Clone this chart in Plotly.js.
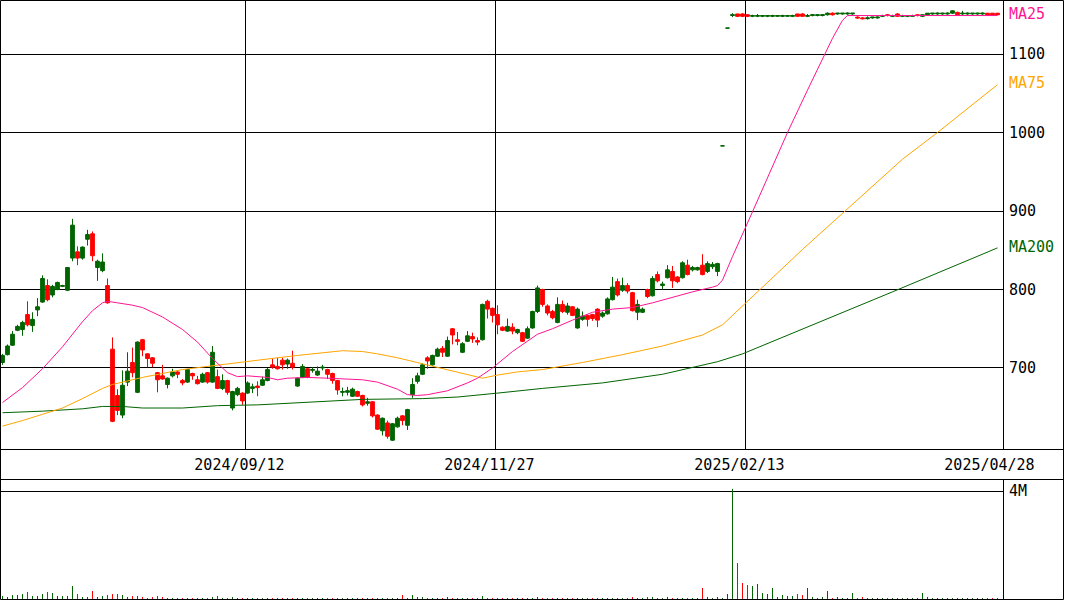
<!DOCTYPE html>
<html><head><meta charset="utf-8">
<script src="https://cdn.plot.ly/plotly-3.0.1.min.js"></script>
<style>html,body{margin:0;padding:0;background:#fff;}#chart{width:1065px;height:600px;}</style>
</head><body><div id="chart"></div>
<script>
// ---- data (daily candles, index 0..199) ----
const openP = [
707,717,729,748,749,768,754,774,784,805,
793,800,804,799,840,848,840,864,871,828,
824,805,724,665,640,682,707,669,736,718,
713,694,690,679,690,695,684,682,693,685,
682,694,682,689,674,684,649,666,668,668,
674,677,678,684,704,702,710,705,706,677,
688,699,697,691,700,698,693,684,669,669,
664,670,665,655,657,640,620,630,608,625,
639,627,666,683,692,713,704,715,725,715,
750,736,720,734,740,735,736,785,776,768,
752,747,752,745,745,738,751,772,800,779,
772,758,781,771,778,751,762,767,768,775,
766,769,787,810,799,805,796,771,771,800,
792,819,805,815,823,816,815,831,825,825,
831,823,829,823,983,1133,1149,1151,1151,1150,
1148,1148,1148,1148,1148,1148,1148,1148,1148,1151,
1151,1148,1149,1149,1149,1150,1152,1151,1151,1151,
1151,1147,1146,1145,1146,1146,1148,1150,1148,1151,
1148,1148,1148,1150,1148,1150,1151,1151,1151,1151,
1152,1153,1151,1151,1151,1151,1151,1152,1152,1152];
const highP = [
718,730,747,755,760,785,771,789,818,813,
806,810,806,828,890,855,855,876,874,838,
846,814,739,673,697,720,726,734,737,719,
714,695,704,688,699,696,686,699,694,690,
694,695,728,698,692,685,671,676,669,683,
680,683,689,700,712,713,713,712,722,688,
705,700,701,702,704,699,694,685,675,676,
675,671,666,662,658,641,637,633,630,638,
640,648,687,694,706,715,717,726,728,740,
751,746,733,747,745,739,782,787,777,780,
753,763,757,750,746,753,773,805,801,781,
774,790,786,783,779,777,772,768,769,776,
772,790,816,814,815,808,797,787,777,801,
817,823,810,831,830,817,836,838,830,829,
845,836,835,834,983,1133,1152,1151,1152,1151,
1150,1151,1149,1149,1150,1149,1150,1149,1150,1151,
1152,1151,1151,1150,1150,1153,1153,1152,1152,1153,
1152,1148,1147,1148,1147,1148,1150,1151,1150,1152,
1150,1149,1150,1150,1150,1152,1152,1153,1152,1153,
1156,1154,1155,1153,1152,1152,1153,1152,1152,1152];
const lowP = [
704,716,728,747,741,753,746,766,783,785,
790,799,803,798,836,831,838,856,836,811,
822,782,631,640,636,677,688,668,715,701,
701,669,685,674,688,687,678,681,685,679,
681,680,681,673,672,666,646,664,653,667,
668,664,677,683,699,698,698,699,698,676,
687,687,694,690,697,686,680,666,664,665,
663,663,651,652,637,621,614,610,607,624,
627,621,662,680,691,699,703,714,714,714,
730,729,719,733,732,729,735,763,758,743,
747,746,743,743,733,737,750,770,778,767,
762,757,770,768,766,750,760,753,760,752,
764,768,786,791,797,795,772,761,770,789,
791,809,800,814,802,808,814,818,823,824,
818,821,826,817,983,1133,1147,1147,1147,1147,
1147,1147,1147,1147,1147,1148,1147,1148,1147,1148,
1148,1147,1148,1148,1148,1149,1149,1150,1150,1150,
1150,1145,1144,1144,1145,1145,1147,1148,1147,1148,
1147,1147,1148,1148,1147,1149,1150,1150,1150,1150,
1151,1150,1150,1150,1150,1150,1150,1150,1150,1150];
const closeP = [
716,728,743,753,758,755,762,778,814,787,
804,809,805,828,882,840,854,870,843,836,
835,783,632,646,678,696,694,733,723,712,
706,685,686,687,695,692,681,698,690,680,
692,682,720,674,684,669,670,674,658,681,
676,675,685,698,701,699,704,710,701,687,
702,688,698,696,701,692,684,672,670,671,
673,664,653,657,639,622,636,613,629,636,
633,647,679,690,704,709,716,724,720,735,
742,734,731,741,737,733,781,775,767,755,
748,753,747,749,734,750,772,802,781,770,
764,781,772,779,767,775,766,762,763,761,
770,788,803,793,805,798,773,781,775,791,
814,811,807,825,811,810,834,819,828,828,
819,833,832,833,983,1133,1150,1148,1148,1148,
1149,1149,1149,1149,1149,1149,1149,1149,1149,1148,
1148,1149,1150,1150,1150,1152,1150,1152,1152,1152,
1152,1146,1145,1146,1147,1147,1149,1149,1149,1148,
1149,1149,1149,1149,1150,1152,1152,1152,1152,1152,
1155,1150,1152,1152,1152,1152,1152,1150,1150,1150];
// volume in thousands of shares
const volumeK = [
120,75,150,150,185,270,110,110,185,270,
235,100,110,110,480,185,75,90,300,75,
110,150,185,185,150,75,110,110,75,40,
75,110,75,40,30,25,30,25,35,35,
40,20,75,110,40,40,75,20,30,40,
20,40,20,40,20,40,30,20,40,40,
30,20,20,20,20,30,20,40,20,40,
20,30,40,20,40,40,40,40,40,30,
150,40,150,75,75,40,40,40,40,75,
40,40,40,40,40,40,110,40,40,40,
20,40,30,20,30,40,40,60,40,20,
20,20,30,20,20,20,30,20,20,30,
20,30,40,30,20,30,85,20,30,85,
85,30,20,85,30,20,40,30,30,20,
420,75,40,75,40,185,4080,1350,600,520,
480,555,230,185,420,75,150,110,110,185,
150,420,75,40,75,300,40,75,40,40,
230,40,75,40,40,40,30,40,30,40,
30,20,30,40,230,75,20,30,20,30,
20,30,30,20,20,30,20,20,30,30];
// moving averages (candle index, value)
const ma25Idx = [0,4,8,12,16,18,20,21,23,26,28,32,36,39,42,45,47,49,53,55,57,61,65,72,75,79,81,83,85,89,93,95,98,102,107,110,114,118,122,126,130,134,138,142,143,144,145,146,150,154,157,161,164,166,168,169,185,199];
const ma25Val = [656,675,699,727,759,773,783,785,783,780,777,765,749,733,712,694,689,690,688,685,687,688,687,685,682,673,666,665,666,671,681,687,700,721,743,750,761,771,775,777,783,790,797,803,805,812,826,842,899,958,1000,1054,1094,1120,1143,1149,1149,1149];
const ma75Idx = [0,4,8,12,16,20,22,24,28,32,36,41,47,51,55,59,63,68,72,75,79,83,87,91,96,99,103,108,116,124,132,140,143,144,146,148,160,180,187,199];
const ma75Val = [626,633,641,649,661,674,679,682,688,693,698,702,707,710,713,716,719,722,721,718,713,707,701,695,687,691,695,698,707,717,728,742,752,755,767,779,851,966,1000,1061];
const ma200Idx = [0,8,16,20,24,28,36,43,51,59,67,72,84,91,99,108,120,132,143,144,148,178,199];
const ma200Val = [643,645,648,651,651,649,649,652,653,656,659,660,661,663,668,674,681,692,708,710,718,797,853];

const dateTickText = ['2024/09/12','2024/11/27','2025/02/13','2025/04/28'];
const priceTicks = [700,800,900,1000,1100];

// ---- styling ----
const W = 1065, H = 600;
const UP = '#006400', DN = '#ff0000';
const C25 = '#ff1493', C75 = '#ffa500', C200 = '#006400';
const FONT = 'DejaVu Sans Mono';
const X = p => p / W, Y = p => 1 - p / H;

const idx = openP.map((_, i) => i);
// volume colour follows candle direction (ties compare with previous close)
let prevUp = true;
const volColors = idx.map(i => {
  let up;
  if (closeP[i] !== openP[i]) up = closeP[i] > openP[i];
  else if (i > 0 && closeP[i] !== closeP[i-1]) up = closeP[i] > closeP[i-1];
  else up = prevUp;
  prevUp = up;
  return up ? UP : DN;
});

const xr = [-0.5, -0.5 + 1004/5];
const traces = [
  {type:'candlestick', x: idx, open: openP, high: highP, low: lowP, close: closeP,
   xaxis:'x', yaxis:'y', whiskerwidth:0, hoverinfo:'skip',
   increasing:{line:{color:UP,width:1}, fillcolor:UP},
   decreasing:{line:{color:DN,width:1}, fillcolor:DN}, showlegend:false},
  {type:'scatter', mode:'lines', x: ma200Idx, y: ma200Val, line:{color:C200,width:1}, xaxis:'x', yaxis:'y', hoverinfo:'skip', showlegend:false},
  {type:'scatter', mode:'lines', x: ma75Idx, y: ma75Val, line:{color:C75,width:1}, xaxis:'x', yaxis:'y', hoverinfo:'skip', showlegend:false},
  {type:'scatter', mode:'lines', x: ma25Idx, y: ma25Val, line:{color:C25,width:1}, xaxis:'x', yaxis:'y', hoverinfo:'skip', showlegend:false},
  {type:'bar', x: idx, y: volumeK, width: 0.22, marker:{color: volColors, line:{width:0}}, xaxis:'x2', yaxis:'y2', hoverinfo:'skip', showlegend:false}
];

const lastOf = a => a[a.length-1];
const tf = {family:FONT, size:15, color:'#000'};
const layout = {
  width: W, height: H, margin:{l:0,r:0,t:0,b:0,pad:0},
  paper_bgcolor:'#fff', plot_bgcolor:'#fff',
  font:tf, showlegend:false, boxgap:0.25, boxgroupgap:0, bargap:0,
  xaxis:{domain:[0, X(1004)], range: xr, anchor:'y', tickvals:[48.5,98.5,148.5], showticklabels:false,
         ticks:'', showgrid:true, gridcolor:'#000', gridwidth:1, zeroline:false, showline:false,
         rangeslider:{visible:false}, fixedrange:true},
  yaxis:{domain:[Y(449), 1], range:[596.8, 1168.8], side:'right', anchor:'x', tickvals: priceTicks,
         ticktext: priceTicks.map(String), showgrid:true, gridcolor:'#000', gridwidth:1, zeroline:false,
         ticks:'', showline:false, ticklabelstandoff:4, tickfont:tf},
  // volume panel x axis carries the date labels on its top side
  xaxis2:{domain:[0, X(1004)], range: xr, anchor:'y2', side:'top', tickvals:[47.4,97.4,147.4,197.4], ticktext: dateTickText,
          showticklabels:true, showgrid:false, zeroline:false, ticks:'', showline:false, ticklabelstandoff:5, tickfont:tf},
  yaxis2:{domain:[Y(599), Y(479)], range:[0, 4000*120/108], side:'right', anchor:'x2', tickvals:[4000], ticktext:['4M'],
          showgrid:true, gridcolor:'#000', gridwidth:1, zeroline:false, ticks:'', showline:false, ticklabelstandoff:4,
          tickfont:tf},
  annotations:[
    {xref:'paper', yref:'y', x:X(1007), y:lastOf(ma25Val), yshift:2, text:'MA25', showarrow:false, xanchor:'left', yanchor:'middle', font:{family:FONT,size:15,color:C25}},
    {xref:'paper', yref:'y', x:X(1007), y:lastOf(ma75Val), yshift:2, text:'MA75', showarrow:false, xanchor:'left', yanchor:'middle', font:{family:FONT,size:15,color:C75}},
    {xref:'paper', yref:'y', x:X(1007), y:lastOf(ma200Val), yshift:1, text:'MA200', showarrow:false, xanchor:'left', yanchor:'middle', font:{family:FONT,size:15,color:C200}}
  ],
  shapes:[
    {type:'rect', xref:'paper', yref:'paper', x0:X(0.5), x1:X(1063.5), y0:Y(0.5), y1:Y(599.5), line:{color:'#000',width:1}},
    {type:'line', xref:'paper', yref:'paper', x0:X(0), x1:X(1064), y0:Y(449.5), y1:Y(449.5), line:{color:'#000',width:1}},
    {type:'line', xref:'paper', yref:'paper', x0:X(0), x1:X(1064), y0:Y(479.5), y1:Y(479.5), line:{color:'#000',width:1}},
    {type:'line', xref:'paper', yref:'paper', x0:X(1003.5), x1:X(1003.5), y0:Y(0), y1:Y(449.5), line:{color:'#000',width:1}},
    {type:'line', xref:'paper', yref:'paper', x0:X(1003.5), x1:X(1003.5), y0:Y(479.5), y1:Y(600), line:{color:'#000',width:1}}
  ]
};
Plotly.newPlot('chart', traces, layout, {staticPlot:true, displayModeBar:false});
</script>
</body></html>
